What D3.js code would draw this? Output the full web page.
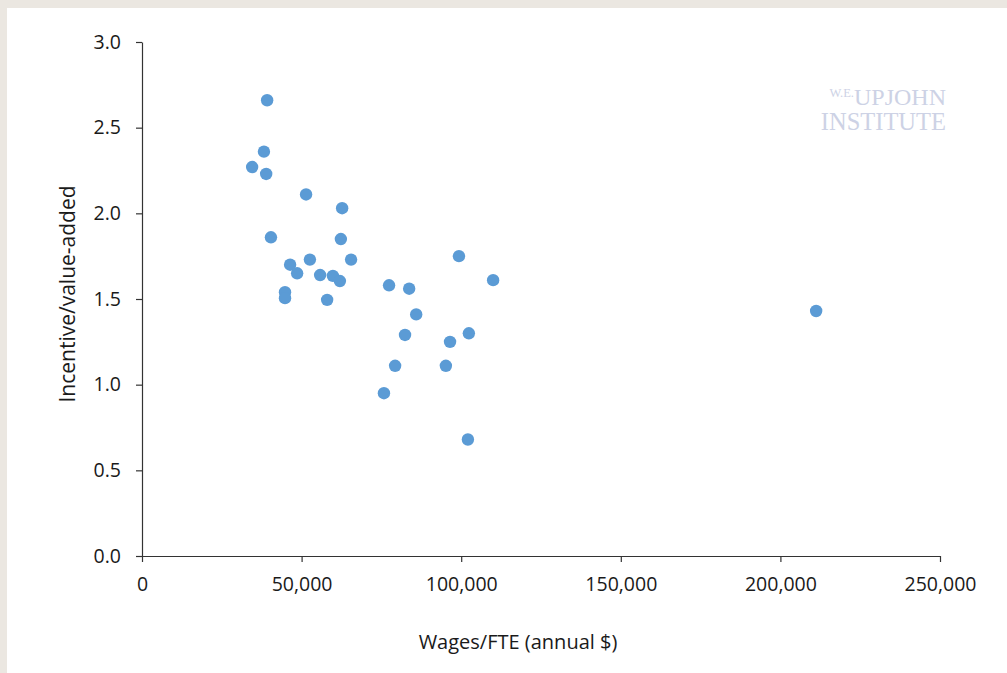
<!DOCTYPE html>
<html lang="en">
<head>
    <meta charset="UTF-8">
    <title>Incentive/value-added vs Wages/FTE</title>
    <style>
        html, body {
            margin: 0;
            padding: 0;
            background-color: #EBE7E1;
        }
        #chart {
            position: absolute;
            left: 7px;
            top: 8px;
            width: 1000px;
            height: 665px;
            background-color: #FFFFFF;
        }
        .label {
            font-family: 'Open Sans', 'Noto Sans', sans-serif;
            fill: #1A1A1A;
        }
        .mark {
            font-family: 'Liberation Serif', 'DejaVu Serif', serif;
            fill: #CDD2E5;
        }
    </style>
</head>
<body>
    <div id="chart"></div>
    <script src="https://d3js.org/d3.v7.min.js"></script>
    <script>
        // data
        const wages = [
            39200, 38200, 34500, 38900, 51400, 62700, 40400, 62300, 99300, 65500,
            52600, 46400, 48600, 55800, 59800, 62000, 110000, 77400, 83700, 44800,
            44800, 58000, 85900, 211200, 102400, 82400, 96500, 79300, 95200, 75800,
            102100
        ];
        const ratio = [
            2.66, 2.36, 2.27, 2.23, 2.11, 2.03, 1.86, 1.85, 1.75, 1.73,
            1.73, 1.70, 1.65, 1.64, 1.635, 1.605, 1.61, 1.58, 1.56, 1.54,
            1.505, 1.495, 1.41, 1.43, 1.30, 1.29, 1.25, 1.11, 1.11, 0.95,
            0.68
        ];
        const xTicks = [0, 50000, 100000, 150000, 200000, 250000];
        const yTicks = [0, 0.5, 1.0, 1.5, 2.0, 2.5, 3.0];

        // the svg sits inside the white panel, so shift page coords by the panel offset
        const offX = 7, offY = 8;
        const width = 1000, height = 665;
        const margin = {left: 142 - offX, top: 42 - offY, right: width - (940 - offX), bottom: height - (556 - offY)};
        const innerW = width - margin.left - margin.right;
        const innerH = height - margin.top - margin.bottom;

        const svg = d3.select("#chart")
            .append("svg")
            .attr("width", width)
            .attr("height", height);

        const g = svg.append("g")
            .attr("transform", `translate(${margin.left}, ${margin.top})`);

        const x_scale = d3.scaleLinear().domain([0, 250000]).range([0, innerW]);
        const y_scale = d3.scaleLinear().domain([0, 3]).range([innerH, 0]);

        // X AXIS
        const x_axis = d3.axisBottom(x_scale)
            .tickValues(xTicks)
            .tickSize(6)
            .tickSizeOuter(0)
            .tickPadding(15)
            .tickFormat(d3.format(",d"));
        const gx = g.append("g")
            .attr("transform", `translate(0, ${innerH})`)
            .call(x_axis);

        // Y AXIS
        const y_axis = d3.axisLeft(y_scale)
            .tickValues(yTicks)
            .tickSize(6)
            .tickSizeOuter(0)
            .tickPadding(15)
            .tickFormat(d3.format(".1f"));
        const gy = g.append("g").call(y_axis);

        [gx, gy].forEach(a => {
            a.select(".domain").attr("stroke", "#333").attr("stroke-width", 1.2);
            a.selectAll(".tick line").attr("stroke", "#333").attr("stroke-width", 1.2);
            a.selectAll(".tick text")
                .attr("class", "label")
                .style("font-size", "19.5px");
        });

        // AXIS TITLES
        svg.append("text")
            .attr("class", "label")
            .attr("x", 518 - offX)
            .attr("y", 649 - offY)
            .attr("text-anchor", "middle")
            .style("font-size", "20px")
            .text("Wages/FTE (annual $)");

        svg.append("text")
            .attr("class", "label")
            .attr("transform", `translate(${75 - offX}, ${294 - offY}) rotate(-90)`)
            .attr("text-anchor", "middle")
            .style("font-size", "21px")
            .text("Incentive/value-added");

        // WATERMARK
        const line1 = svg.append("text")
            .attr("class", "mark")
            .attr("x", 946 - offX)
            .attr("y", 105 - offY)
            .attr("text-anchor", "end")
            .style("font-size", "24px");
        line1.append("tspan")
            .style("font-size", "12.5px")
            .attr("dy", "-8")
            .text("W.E.");
        line1.append("tspan")
            .attr("dy", "8")
            .text("UPJOHN");
        svg.append("text")
            .attr("class", "mark")
            .attr("x", 946 - offX)
            .attr("y", 130 - offY)
            .attr("text-anchor", "end")
            .style("font-size", "24.5px")
            .text("INSTITUTE");

        // POINTS
        g.selectAll("circle")
            .data(wages)
            .enter()
            .append("circle")
            .attr("cx", (d) => x_scale(d))
            .attr("cy", (d, i) => y_scale(ratio[i]))
            .attr("r", 6.2)
            .style("fill", "#5B9BD5");
    </script>
</body>
</html>
